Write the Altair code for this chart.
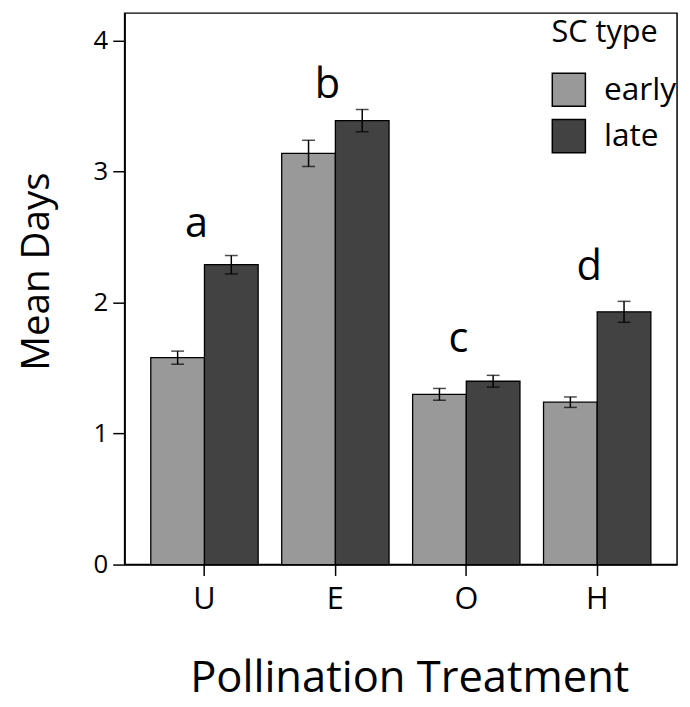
import altair as alt
import pandas as pd

categories = ["U", "E", "O", "H"]
sc_types = ["early", "late"]
early_mean = [1.58, 3.14, 1.30, 1.24]
early_se = [0.05, 0.10, 0.045, 0.04]
late_mean = [2.29, 3.39, 1.40, 1.93]
late_se = [0.07, 0.085, 0.045, 0.08]
letters = ["a", "b", "c", "d"]
letter_y = [2.50, 3.56, 1.62, 2.17]

rows = []
for i, c in enumerate(categories):
    rows.append({"treat": c, "sc": "early", "mean": early_mean[i],
                 "lo": early_mean[i] - early_se[i], "hi": early_mean[i] + early_se[i]})
    rows.append({"treat": c, "sc": "late", "mean": late_mean[i],
                 "lo": late_mean[i] - late_se[i], "hi": late_mean[i] + late_se[i]})
df = pd.DataFrame(rows)
lab = pd.DataFrame({"treat": categories, "letter": letters, "y": letter_y})

FONT = "Open Sans"

xscale = alt.Scale(domain=categories, paddingInner=0.18, paddingOuter=0.2)
yscale = alt.Scale(domain=[0, 4.211], nice=False, zero=True)
offscale = alt.Scale(domain=sc_types, paddingInner=0, paddingOuter=0)

x_ax = alt.Axis(title="Pollination Treatment", labelAngle=0)
y_ax = alt.Axis(title="Mean Days", values=[0, 1, 2, 3, 4], format="d", grid=False)

bars = alt.Chart(df).mark_bar(stroke="black", strokeWidth=1.3).encode(
    x=alt.X("treat:N", scale=xscale, sort=categories, axis=x_ax),
    xOffset=alt.XOffset("sc:N", scale=offscale, sort=sc_types),
    y=alt.Y("mean:Q", scale=yscale, axis=y_ax),
    color=alt.Color("sc:N", scale=alt.Scale(domain=sc_types, range=["#999999", "#424242"]),
                    legend=alt.Legend(title="SC type", orient="none", legendX=432, legendY=5,
                                      titleFontSize=31, titleFontWeight="normal",
                                      titlePadding=24, labelFontSize=32, labelOffset=18,
                                      symbolType="square", symbolSize=1122,
                                      symbolStrokeColor="black", symbolStrokeWidth=1.5,
                                      symbolOpacity=1, rowPadding=6, padding=0)),
)

err = alt.Chart(df).mark_rule(color="black", strokeWidth=1.5).encode(
    x=alt.X("treat:N", scale=xscale, sort=categories, axis=x_ax),
    xOffset=alt.XOffset("sc:N", scale=offscale, sort=sc_types),
    y=alt.Y("lo:Q", scale=yscale, axis=y_ax),
    y2="hi:Q",
)
cap_lo = alt.Chart(df).mark_tick(color="black", thickness=1.5, size=13).encode(
    x=alt.X("treat:N", scale=xscale, sort=categories, axis=x_ax),
    xOffset=alt.XOffset("sc:N", scale=offscale, sort=sc_types),
    y=alt.Y("lo:Q", scale=yscale, axis=y_ax),
)
cap_hi = alt.Chart(df).mark_tick(color="black", thickness=1.5, size=13).encode(
    x=alt.X("treat:N", scale=xscale, sort=categories, axis=x_ax),
    xOffset=alt.XOffset("sc:N", scale=offscale, sort=sc_types),
    y=alt.Y("hi:Q", scale=yscale, axis=y_ax),
)

text = alt.Chart(lab).mark_text(fontSize=42, font=FONT, baseline="alphabetic",
                                 align="center", dx=-8, color="black").encode(
    x=alt.X("treat:N", scale=xscale, sort=categories, axis=x_ax),
    y=alt.Y("y:Q", scale=yscale, axis=y_ax),
    text="letter:N",
)

chart = alt.layer(bars, err, cap_lo, cap_hi, text).properties(
    width=559, height=558,
    autosize=alt.AutoSizeParams(type="none"),
    padding={"left": 118, "top": 1, "right": 5, "bottom": 146},
).configure_view(
    stroke="black", strokeWidth=1.5
).configure_axis(
    domainColor="black", domainWidth=1.5, tickColor="black", tickWidth=1.5,
    labelColor="black", titleColor="black", labelFont=FONT, titleFont=FONT,
    titleFontWeight="normal",
).configure_axisX(
    labelFontSize=31, labelPadding=9, tickSize=11, labelAngle=0,
    titleFontSize=44, titleX=288, titleY=128, titleBaseline="alphabetic",
    titleAlign="center",
).configure_axisY(
    labelFontSize=26, labelPadding=5, tickSize=12,
    titleFontSize=39, titleAngle=270, titleX=-77, titleY=261,
    titleBaseline="alphabetic", titleAlign="center",
).configure_legend(
    labelFont=FONT, titleFont=FONT, labelColor="black", titleColor="black",
).configure_text(font=FONT)

chart.save("out.html", embed_options={"renderer": "svg", "actions": False})
